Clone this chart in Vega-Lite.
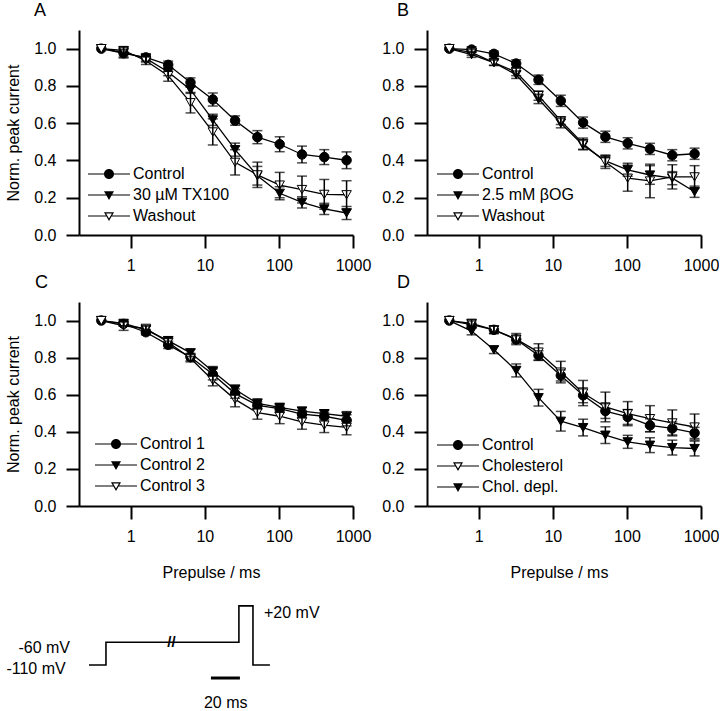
{
  "$schema": "https://vega.github.io/schema/vega-lite/v6.json",
  "background": "white",
  "padding": {"left": 5, "top": 2, "right": 0, "bottom": 0},
  "columns": 2,
  "spacing": {"row": 67, "column": 74},
  "bounds": "flush",
  "align": "each",
  "datasets": {
    "A": [
      {"series": "Control", "t": 0.4, "v": 1.0, "e": 0},
      {"series": "Control", "t": 0.8, "v": 0.975, "e": 0.02},
      {"series": "Control", "t": 1.6, "v": 0.953, "e": 0.02},
      {"series": "Control", "t": 3.2, "v": 0.913, "e": 0.02},
      {"series": "Control", "t": 6.4, "v": 0.818, "e": 0.025},
      {"series": "Control", "t": 12.8, "v": 0.727, "e": 0.035},
      {"series": "Control", "t": 25.6, "v": 0.614, "e": 0.025},
      {"series": "Control", "t": 51.2, "v": 0.525, "e": 0.035},
      {"series": "Control", "t": 102.4, "v": 0.487, "e": 0.04},
      {"series": "Control", "t": 204.8, "v": 0.432, "e": 0.045},
      {"series": "Control", "t": 409.6, "v": 0.418, "e": 0.04},
      {"series": "Control", "t": 819.2, "v": 0.401, "e": 0.045},
      {"series": "30 µM TX100", "t": 0.4, "v": 1.0, "e": 0},
      {"series": "30 µM TX100", "t": 0.8, "v": 0.98, "e": 0.03},
      {"series": "30 µM TX100", "t": 1.6, "v": 0.948, "e": 0.02},
      {"series": "30 µM TX100", "t": 3.2, "v": 0.875, "e": 0.02},
      {"series": "30 µM TX100", "t": 6.4, "v": 0.78, "e": 0.02},
      {"series": "30 µM TX100", "t": 12.8, "v": 0.618, "e": 0.03},
      {"series": "30 µM TX100", "t": 25.6, "v": 0.458, "e": 0.035},
      {"series": "30 µM TX100", "t": 51.2, "v": 0.318, "e": 0.05},
      {"series": "30 µM TX100", "t": 102.4, "v": 0.224, "e": 0.035},
      {"series": "30 µM TX100", "t": 204.8, "v": 0.175, "e": 0.03},
      {"series": "30 µM TX100", "t": 409.6, "v": 0.14, "e": 0.03},
      {"series": "30 µM TX100", "t": 819.2, "v": 0.118, "e": 0.035},
      {"series": "Washout", "t": 0.4, "v": 1.0, "e": 0},
      {"series": "Washout", "t": 0.8, "v": 0.99, "e": 0.015},
      {"series": "Washout", "t": 1.6, "v": 0.935, "e": 0.02},
      {"series": "Washout", "t": 3.2, "v": 0.855, "e": 0.03},
      {"series": "Washout", "t": 6.4, "v": 0.71, "e": 0.055},
      {"series": "Washout", "t": 12.8, "v": 0.553, "e": 0.07},
      {"series": "Washout", "t": 25.6, "v": 0.39, "e": 0.068},
      {"series": "Washout", "t": 51.2, "v": 0.323, "e": 0.068},
      {"series": "Washout", "t": 102.4, "v": 0.268, "e": 0.068},
      {"series": "Washout", "t": 204.8, "v": 0.244, "e": 0.072},
      {"series": "Washout", "t": 409.6, "v": 0.218, "e": 0.08},
      {"series": "Washout", "t": 819.2, "v": 0.216, "e": 0.075}
    ],
    "B": [
      {"series": "Control", "t": 0.4, "v": 1.0, "e": 0},
      {"series": "Control", "t": 0.8, "v": 0.995, "e": 0.015},
      {"series": "Control", "t": 1.6, "v": 0.972, "e": 0.015},
      {"series": "Control", "t": 3.2, "v": 0.92, "e": 0.02},
      {"series": "Control", "t": 6.4, "v": 0.833, "e": 0.025},
      {"series": "Control", "t": 12.8, "v": 0.72, "e": 0.03},
      {"series": "Control", "t": 25.6, "v": 0.603, "e": 0.03},
      {"series": "Control", "t": 51.2, "v": 0.527, "e": 0.03},
      {"series": "Control", "t": 102.4, "v": 0.492, "e": 0.03},
      {"series": "Control", "t": 204.8, "v": 0.462, "e": 0.03},
      {"series": "Control", "t": 409.6, "v": 0.428, "e": 0.03},
      {"series": "Control", "t": 819.2, "v": 0.436, "e": 0.03},
      {"series": "2.5 mM βOG", "t": 0.4, "v": 1.0, "e": 0},
      {"series": "2.5 mM βOG", "t": 0.8, "v": 0.968, "e": 0.015},
      {"series": "2.5 mM βOG", "t": 1.6, "v": 0.925, "e": 0.015},
      {"series": "2.5 mM βOG", "t": 3.2, "v": 0.86, "e": 0.02},
      {"series": "2.5 mM βOG", "t": 6.4, "v": 0.73, "e": 0.025},
      {"series": "2.5 mM βOG", "t": 12.8, "v": 0.6, "e": 0.025},
      {"series": "2.5 mM βOG", "t": 25.6, "v": 0.482, "e": 0.025},
      {"series": "2.5 mM βOG", "t": 51.2, "v": 0.398, "e": 0.03},
      {"series": "2.5 mM βOG", "t": 102.4, "v": 0.35, "e": 0.035},
      {"series": "2.5 mM βOG", "t": 204.8, "v": 0.322, "e": 0.05},
      {"series": "2.5 mM βOG", "t": 409.6, "v": 0.305, "e": 0.035},
      {"series": "2.5 mM βOG", "t": 819.2, "v": 0.232, "e": 0.03},
      {"series": "Washout", "t": 0.4, "v": 1.0, "e": 0},
      {"series": "Washout", "t": 0.8, "v": 0.98, "e": 0.015},
      {"series": "Washout", "t": 1.6, "v": 0.925, "e": 0.015},
      {"series": "Washout", "t": 3.2, "v": 0.875, "e": 0.02},
      {"series": "Washout", "t": 6.4, "v": 0.748, "e": 0.025},
      {"series": "Washout", "t": 12.8, "v": 0.613, "e": 0.02},
      {"series": "Washout", "t": 25.6, "v": 0.49, "e": 0.03},
      {"series": "Washout", "t": 51.2, "v": 0.392, "e": 0.035},
      {"series": "Washout", "t": 102.4, "v": 0.305, "e": 0.07},
      {"series": "Washout", "t": 204.8, "v": 0.29, "e": 0.09},
      {"series": "Washout", "t": 409.6, "v": 0.312, "e": 0.065},
      {"series": "Washout", "t": 819.2, "v": 0.312, "e": 0.06}
    ],
    "C": [
      {"series": "Control 1", "t": 0.4, "v": 1.0, "e": 0},
      {"series": "Control 1", "t": 0.8, "v": 0.982, "e": 0.01},
      {"series": "Control 1", "t": 1.6, "v": 0.937, "e": 0.015},
      {"series": "Control 1", "t": 3.2, "v": 0.869, "e": 0.02},
      {"series": "Control 1", "t": 6.4, "v": 0.803, "e": 0.02},
      {"series": "Control 1", "t": 12.8, "v": 0.71, "e": 0.03},
      {"series": "Control 1", "t": 25.6, "v": 0.606, "e": 0.025},
      {"series": "Control 1", "t": 51.2, "v": 0.543, "e": 0.02},
      {"series": "Control 1", "t": 102.4, "v": 0.525, "e": 0.02},
      {"series": "Control 1", "t": 204.8, "v": 0.495, "e": 0.02},
      {"series": "Control 1", "t": 409.6, "v": 0.484, "e": 0.02},
      {"series": "Control 1", "t": 819.2, "v": 0.462, "e": 0.03},
      {"series": "Control 2", "t": 0.4, "v": 1.0, "e": 0},
      {"series": "Control 2", "t": 0.8, "v": 0.985, "e": 0.015},
      {"series": "Control 2", "t": 1.6, "v": 0.95, "e": 0.02},
      {"series": "Control 2", "t": 3.2, "v": 0.892, "e": 0.02},
      {"series": "Control 2", "t": 6.4, "v": 0.826, "e": 0.02},
      {"series": "Control 2", "t": 12.8, "v": 0.727, "e": 0.025},
      {"series": "Control 2", "t": 25.6, "v": 0.628, "e": 0.025},
      {"series": "Control 2", "t": 51.2, "v": 0.553, "e": 0.025},
      {"series": "Control 2", "t": 102.4, "v": 0.532, "e": 0.02},
      {"series": "Control 2", "t": 204.8, "v": 0.512, "e": 0.02},
      {"series": "Control 2", "t": 409.6, "v": 0.498, "e": 0.02},
      {"series": "Control 2", "t": 819.2, "v": 0.484, "e": 0.025},
      {"series": "Control 3", "t": 0.4, "v": 1.0, "e": 0},
      {"series": "Control 3", "t": 0.8, "v": 0.972, "e": 0.025},
      {"series": "Control 3", "t": 1.6, "v": 0.958, "e": 0.015},
      {"series": "Control 3", "t": 3.2, "v": 0.883, "e": 0.02},
      {"series": "Control 3", "t": 6.4, "v": 0.797, "e": 0.02},
      {"series": "Control 3", "t": 12.8, "v": 0.678, "e": 0.03},
      {"series": "Control 3", "t": 25.6, "v": 0.575, "e": 0.04},
      {"series": "Control 3", "t": 51.2, "v": 0.503, "e": 0.035},
      {"series": "Control 3", "t": 102.4, "v": 0.484, "e": 0.04},
      {"series": "Control 3", "t": 204.8, "v": 0.454, "e": 0.04},
      {"series": "Control 3", "t": 409.6, "v": 0.436, "e": 0.04},
      {"series": "Control 3", "t": 819.2, "v": 0.424, "e": 0.04}
    ],
    "D": [
      {"series": "Control", "t": 0.4, "v": 1.0, "e": 0},
      {"series": "Control", "t": 0.8, "v": 0.978, "e": 0.02},
      {"series": "Control", "t": 1.6, "v": 0.95, "e": 0.02},
      {"series": "Control", "t": 3.2, "v": 0.898, "e": 0.02},
      {"series": "Control", "t": 6.4, "v": 0.812, "e": 0.025},
      {"series": "Control", "t": 12.8, "v": 0.704, "e": 0.03},
      {"series": "Control", "t": 25.6, "v": 0.597, "e": 0.04},
      {"series": "Control", "t": 51.2, "v": 0.512, "e": 0.04},
      {"series": "Control", "t": 102.4, "v": 0.48, "e": 0.04},
      {"series": "Control", "t": 204.8, "v": 0.435, "e": 0.035},
      {"series": "Control", "t": 409.6, "v": 0.418, "e": 0.035},
      {"series": "Control", "t": 819.2, "v": 0.394, "e": 0.03},
      {"series": "Cholesterol", "t": 0.4, "v": 1.0, "e": 0},
      {"series": "Cholesterol", "t": 0.8, "v": 0.985, "e": 0.02},
      {"series": "Cholesterol", "t": 1.6, "v": 0.95, "e": 0.02},
      {"series": "Cholesterol", "t": 3.2, "v": 0.9, "e": 0.03},
      {"series": "Cholesterol", "t": 6.4, "v": 0.83, "e": 0.045},
      {"series": "Cholesterol", "t": 12.8, "v": 0.722, "e": 0.058},
      {"series": "Cholesterol", "t": 25.6, "v": 0.609, "e": 0.068},
      {"series": "Cholesterol", "t": 51.2, "v": 0.534, "e": 0.08},
      {"series": "Cholesterol", "t": 102.4, "v": 0.498, "e": 0.065},
      {"series": "Cholesterol", "t": 204.8, "v": 0.471, "e": 0.07},
      {"series": "Cholesterol", "t": 409.6, "v": 0.448, "e": 0.07},
      {"series": "Cholesterol", "t": 819.2, "v": 0.426, "e": 0.07},
      {"series": "Chol. depl.", "t": 0.4, "v": 1.0, "e": 0},
      {"series": "Chol. depl.", "t": 0.8, "v": 0.943, "e": 0.02},
      {"series": "Chol. depl.", "t": 1.6, "v": 0.842, "e": 0.02},
      {"series": "Chol. depl.", "t": 3.2, "v": 0.731, "e": 0.035},
      {"series": "Chol. depl.", "t": 6.4, "v": 0.584, "e": 0.045},
      {"series": "Chol. depl.", "t": 12.8, "v": 0.457, "e": 0.053},
      {"series": "Chol. depl.", "t": 25.6, "v": 0.423, "e": 0.045},
      {"series": "Chol. depl.", "t": 51.2, "v": 0.382, "e": 0.045},
      {"series": "Chol. depl.", "t": 102.4, "v": 0.346, "e": 0.035},
      {"series": "Chol. depl.", "t": 204.8, "v": 0.328, "e": 0.04},
      {"series": "Chol. depl.", "t": 409.6, "v": 0.315, "e": 0.04},
      {"series": "Chol. depl.", "t": 819.2, "v": 0.31, "e": 0.04}
    ],
    "protocol": [
      {"i": 0, "t": 0, "v": -110},
      {"i": 1, "t": 11.7, "v": -110},
      {"i": 2, "t": 11.7, "v": -60},
      {"i": 3, "t": 103.4, "v": -60},
      {"i": 4, "t": 103.4, "v": 20},
      {"i": 5, "t": 113.1, "v": 20},
      {"i": 6, "t": 113.1, "v": -110},
      {"i": 7, "t": 124.8, "v": -110}
    ],
    "scalebar": [{"t0": 84.1, "t1": 104.1, "v": -138.6}],
    "labelsRight": [
      {"t": -13.1, "v": -72.6, "label": "-60 mV"},
      {"t": -16.1, "v": -118.8, "label": "-110 mV"}
    ],
    "labelsLeft": [{"t": 120.7, "v": 4.3, "label": "+20 mV"}],
    "labelsCenter": [{"t": 94.3, "v": -193.5, "label": "20 ms"}],
    "breakMark": [{"t": 56.9, "v": -60, "label": "//"}]
  },
  "concat": [
    {
      "width": 274, "height": 205,
      "title": {"text": "A", "dx": -45, "offset": 10},
      "data": {"name": "A"},
      "encoding": {
        "x": {"field": "t", "type": "quantitative", "scale": {"type": "log", "domain": [0.2, 1000], "nice": false}, "axis": {"values": [1, 10, 100, 1000], "format": "d", "title": null}},
        "y": {"field": "v", "type": "quantitative", "scale": {"domain": [0, 1.1], "nice": false, "zero": false}, "axis": {"values": [0, 0.2, 0.4, 0.6, 0.8, 1], "format": ".1f", "title": "Norm. peak current", "titlePadding": 12}}
      },
      "layer": [
        {"mark": {"type": "line", "color": "black", "strokeWidth": 1.3}, "encoding": {"detail": {"field": "series", "type": "nominal"}}},
        {"transform": [{"filter": {"field": "series", "equal": "Control"}}], "mark": {"type": "point", "shape": "circle", "size": 90, "fill": "black", "fillOpacity": 1, "stroke": "black", "strokeWidth": 1, "opacity": 1}},
        {"transform": [{"filter": {"field": "series", "equal": "30 µM TX100"}}], "mark": {"type": "point", "shape": "triangle-down", "size": 90, "fill": "black", "fillOpacity": 1, "stroke": "black", "strokeWidth": 1, "opacity": 1}},
        {"transform": [{"filter": {"field": "series", "equal": "Washout"}}], "mark": {"type": "point", "shape": "triangle-down", "size": 90, "fill": "white", "fillOpacity": 1, "stroke": "black", "strokeWidth": 1, "opacity": 1}},
        {"mark": {"type": "point", "filled": true, "size": 100, "color": "black", "opacity": 0},
         "encoding": {
           "shape": {"field": "series", "type": "nominal", "scale": {"domain": ["Control", "30 µM TX100", "Washout"], "range": ["M-4.2,-0.12H4.2V0.12H-4.2ZM-1,0A1,1,0,1,1,1,0A1,1,0,1,1,-1,0Z", "M-4.2,-0.12H4.2V0.12H-4.2ZM-1,-0.75L1,-0.75L0,1Z", "M-4.2,-0.12H-0.55V0.12H-4.2ZM0.55,-0.12H4.2V0.12H0.55ZM-1,-0.75L1,-0.75L0,1ZM-0.586,-0.51L0,0.516L0.586,-0.51Z"]},
             "legend": {"title": null, "orient": "none", "legendX": 12, "legendY": 136, "symbolOpacity": 1, "symbolFillColor": "black"}}
         }},
        {"transform": [{"filter": "datum.e > 0"}], "mark": {"type": "errorbar", "ticks": {"size": 10}, "thickness": 1.5, "color": "black"}, "encoding": {"yError": {"field": "e"}}}
      ]
    },
    {
      "width": 274, "height": 205,
      "title": {"text": "B", "dx": -30, "offset": 10},
      "data": {"name": "B"},
      "encoding": {
        "x": {"field": "t", "type": "quantitative", "scale": {"type": "log", "domain": [0.2, 1000], "nice": false}, "axis": {"values": [1, 10, 100, 1000], "format": "d", "title": null}},
        "y": {"field": "v", "type": "quantitative", "scale": {"domain": [0, 1.1], "nice": false, "zero": false}, "axis": {"values": [0, 0.2, 0.4, 0.6, 0.8, 1], "format": ".1f", "title": null}}
      },
      "layer": [
        {"mark": {"type": "line", "color": "black", "strokeWidth": 1.3}, "encoding": {"detail": {"field": "series", "type": "nominal"}}},
        {"transform": [{"filter": {"field": "series", "equal": "Control"}}], "mark": {"type": "point", "shape": "circle", "size": 90, "fill": "black", "fillOpacity": 1, "stroke": "black", "strokeWidth": 1, "opacity": 1}},
        {"transform": [{"filter": {"field": "series", "equal": "2.5 mM βOG"}}], "mark": {"type": "point", "shape": "triangle-down", "size": 90, "fill": "black", "fillOpacity": 1, "stroke": "black", "strokeWidth": 1, "opacity": 1}},
        {"transform": [{"filter": {"field": "series", "equal": "Washout"}}], "mark": {"type": "point", "shape": "triangle-down", "size": 90, "fill": "white", "fillOpacity": 1, "stroke": "black", "strokeWidth": 1, "opacity": 1}},
        {"mark": {"type": "point", "filled": true, "size": 100, "color": "black", "opacity": 0},
         "encoding": {
           "shape": {"field": "series", "type": "nominal", "scale": {"domain": ["Control", "2.5 mM βOG", "Washout"], "range": ["M-4.2,-0.12H4.2V0.12H-4.2ZM-1,0A1,1,0,1,1,1,0A1,1,0,1,1,-1,0Z", "M-4.2,-0.12H4.2V0.12H-4.2ZM-1,-0.75L1,-0.75L0,1Z", "M-4.2,-0.12H-0.55V0.12H-4.2ZM0.55,-0.12H4.2V0.12H0.55ZM-1,-0.75L1,-0.75L0,1ZM-0.586,-0.51L0,0.516L0.586,-0.51Z"]},
             "legend": {"title": null, "orient": "none", "legendX": 13, "legendY": 136, "symbolOpacity": 1, "symbolFillColor": "black"}}
         }},
        {"transform": [{"filter": "datum.e > 0"}], "mark": {"type": "errorbar", "ticks": {"size": 10}, "thickness": 1.5, "color": "black"}, "encoding": {"yError": {"field": "e"}}}
      ]
    },
    {
      "width": 274, "height": 204,
      "title": {"text": "C", "dx": -44, "offset": 10},
      "data": {"name": "C"},
      "encoding": {
        "x": {"field": "t", "type": "quantitative", "scale": {"type": "log", "domain": [0.2, 1000], "nice": false}, "axis": {"values": [1, 10, 100, 1000], "format": "d", "title": "Prepulse / ms", "titlePadding": 20, "titleX": 132}},
        "y": {"field": "v", "type": "quantitative", "scale": {"domain": [0, 1.1], "nice": false, "zero": false}, "axis": {"values": [0, 0.2, 0.4, 0.6, 0.8, 1], "format": ".1f", "title": "Norm. peak current", "titlePadding": 12}}
      },
      "layer": [
        {"mark": {"type": "line", "color": "black", "strokeWidth": 1.3}, "encoding": {"detail": {"field": "series", "type": "nominal"}}},
        {"transform": [{"filter": {"field": "series", "equal": "Control 1"}}], "mark": {"type": "point", "shape": "circle", "size": 90, "fill": "black", "fillOpacity": 1, "stroke": "black", "strokeWidth": 1, "opacity": 1}},
        {"transform": [{"filter": {"field": "series", "equal": "Control 2"}}], "mark": {"type": "point", "shape": "triangle-down", "size": 90, "fill": "black", "fillOpacity": 1, "stroke": "black", "strokeWidth": 1, "opacity": 1}},
        {"transform": [{"filter": {"field": "series", "equal": "Control 3"}}], "mark": {"type": "point", "shape": "triangle-down", "size": 90, "fill": "white", "fillOpacity": 1, "stroke": "black", "strokeWidth": 1, "opacity": 1}},
        {"mark": {"type": "point", "filled": true, "size": 100, "color": "black", "opacity": 0},
         "encoding": {
           "shape": {"field": "series", "type": "nominal", "scale": {"domain": ["Control 1", "Control 2", "Control 3"], "range": ["M-4.2,-0.12H4.2V0.12H-4.2ZM-1,0A1,1,0,1,1,1,0A1,1,0,1,1,-1,0Z", "M-4.2,-0.12H4.2V0.12H-4.2ZM-1,-0.75L1,-0.75L0,1Z", "M-4.2,-0.12H-0.55V0.12H-4.2ZM0.55,-0.12H4.2V0.12H0.55ZM-1,-0.75L1,-0.75L0,1ZM-0.586,-0.51L0,0.516L0.586,-0.51Z"]},
             "legend": {"title": null, "orient": "none", "legendX": 19, "legendY": 134, "symbolOpacity": 1, "symbolFillColor": "black"}}
         }},
        {"transform": [{"filter": "datum.e > 0"}], "mark": {"type": "errorbar", "ticks": {"size": 10}, "thickness": 1.5, "color": "black"}, "encoding": {"yError": {"field": "e"}}}
      ]
    },
    {
      "width": 274, "height": 204,
      "title": {"text": "D", "dx": -30, "offset": 10},
      "data": {"name": "D"},
      "encoding": {
        "x": {"field": "t", "type": "quantitative", "scale": {"type": "log", "domain": [0.2, 1000], "nice": false}, "axis": {"values": [1, 10, 100, 1000], "format": "d", "title": "Prepulse / ms", "titlePadding": 20, "titleX": 132}},
        "y": {"field": "v", "type": "quantitative", "scale": {"domain": [0, 1.1], "nice": false, "zero": false}, "axis": {"values": [0, 0.2, 0.4, 0.6, 0.8, 1], "format": ".1f", "title": null}}
      },
      "layer": [
        {"mark": {"type": "line", "color": "black", "strokeWidth": 1.3}, "encoding": {"detail": {"field": "series", "type": "nominal"}}},
        {"transform": [{"filter": {"field": "series", "equal": "Control"}}], "mark": {"type": "point", "shape": "circle", "size": 90, "fill": "black", "fillOpacity": 1, "stroke": "black", "strokeWidth": 1, "opacity": 1}},
        {"transform": [{"filter": {"field": "series", "equal": "Chol. depl."}}], "mark": {"type": "point", "shape": "triangle-down", "size": 90, "fill": "black", "fillOpacity": 1, "stroke": "black", "strokeWidth": 1, "opacity": 1}},
        {"transform": [{"filter": {"field": "series", "equal": "Cholesterol"}}], "mark": {"type": "point", "shape": "triangle-down", "size": 90, "fill": "white", "fillOpacity": 1, "stroke": "black", "strokeWidth": 1, "opacity": 1}},
        {"mark": {"type": "point", "filled": true, "size": 100, "color": "black", "opacity": 0},
         "encoding": {
           "shape": {"field": "series", "type": "nominal", "scale": {"domain": ["Control", "Cholesterol", "Chol. depl."], "range": ["M-4.2,-0.12H4.2V0.12H-4.2ZM-1,0A1,1,0,1,1,1,0A1,1,0,1,1,-1,0Z", "M-4.2,-0.12H-0.55V0.12H-4.2ZM0.55,-0.12H4.2V0.12H0.55ZM-1,-0.75L1,-0.75L0,1ZM-0.586,-0.51L0,0.516L0.586,-0.51Z", "M-4.2,-0.12H4.2V0.12H-4.2ZM-1,-0.75L1,-0.75L0,1Z"]},
             "legend": {"title": null, "orient": "none", "legendX": 13, "legendY": 135, "symbolOpacity": 1, "symbolFillColor": "black"}}
         }},
        {"transform": [{"filter": "datum.e > 0"}], "mark": {"type": "errorbar", "ticks": {"size": 10}, "thickness": 1.5, "color": "black"}, "encoding": {"yError": {"field": "e"}}}
      ]
    },
    {
      "width": 274, "height": 136,
      "layer": [
        {"data": {"name": "protocol"}, "mark": {"type": "line", "color": "black", "strokeWidth": 1.6, "strokeJoin": "miter"},
         "encoding": {
           "x": {"field": "t", "type": "quantitative", "scale": {"domain": [-6.9, 182.1], "nice": false, "zero": false}, "axis": null},
           "y": {"field": "v", "type": "quantitative", "scale": {"domain": [-206.7, 92.2], "nice": false, "zero": false}, "axis": null},
           "order": {"field": "i", "type": "quantitative"}
         }},
        {"data": {"name": "scalebar"}, "mark": {"type": "rule", "color": "black", "strokeWidth": 3},
         "encoding": {
           "x": {"field": "t0", "type": "quantitative", "scale": {"domain": [-6.9, 182.1], "nice": false, "zero": false}, "axis": null},
           "x2": {"field": "t1"},
           "y": {"field": "v", "type": "quantitative", "scale": {"domain": [-206.7, 92.2], "nice": false, "zero": false}, "axis": null}
         }},
        {"data": {"name": "labelsRight"}, "mark": {"type": "text", "align": "right", "baseline": "middle", "fontSize": 16, "color": "black"},
         "encoding": {
           "x": {"field": "t", "type": "quantitative", "axis": null},
           "y": {"field": "v", "type": "quantitative", "axis": null},
           "text": {"field": "label"}
         }},
        {"data": {"name": "labelsLeft"}, "mark": {"type": "text", "align": "left", "baseline": "middle", "fontSize": 16, "color": "black"},
         "encoding": {
           "x": {"field": "t", "type": "quantitative", "axis": null},
           "y": {"field": "v", "type": "quantitative", "axis": null},
           "text": {"field": "label"}
         }},
        {"data": {"name": "labelsCenter"}, "mark": {"type": "text", "align": "center", "baseline": "middle", "fontSize": 16, "color": "black"},
         "encoding": {
           "x": {"field": "t", "type": "quantitative", "axis": null},
           "y": {"field": "v", "type": "quantitative", "axis": null},
           "text": {"field": "label"}
         }},
        {"data": {"name": "breakMark"}, "mark": {"type": "text", "align": "center", "baseline": "middle", "fontSize": 15, "fontWeight": "bold", "color": "black"},
         "encoding": {
           "x": {"field": "t", "type": "quantitative", "axis": null},
           "y": {"field": "v", "type": "quantitative", "axis": null},
           "text": {"field": "label"}
         }}
      ]
    }
  ],
  "resolve": {
    "scale": {"x": "independent", "y": "independent", "shape": "independent"},
    "legend": {"shape": "independent"}
  },
  "config": {
    "view": {"stroke": null},
    "font": "Liberation Sans",
    "axis": {
      "grid": false, "domainColor": "black", "domainWidth": 2, "tickColor": "black", "tickWidth": 2, "tickSize": 13,
      "labelColor": "black", "labelFontSize": 16, "labelFont": "Liberation Sans",
      "titleFont": "Liberation Sans", "titleFontSize": 16, "titleFontWeight": "normal", "titleColor": "black",
      "labelFlush": false, "labelOverlap": false, "labelBound": false
    },
    "axisX": {"labelPadding": 9},
    "axisY": {"labelPadding": 10},
    "legend": {
      "padding": 0, "labelFontSize": 16, "labelFont": "Liberation Sans", "labelColor": "black",
      "symbolSize": 100, "symbolOffset": 10, "labelOffset": 16, "rowPadding": 5, "direction": "vertical"
    },
    "title": {"fontSize": 18, "fontWeight": "normal", "anchor": "start", "frame": "group", "color": "black", "font": "Liberation Sans"},
    "text": {"font": "Liberation Sans"}
  }
}
